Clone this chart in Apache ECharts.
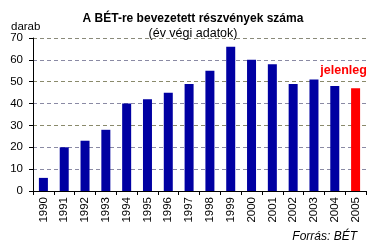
<!DOCTYPE html>
<html><head><meta charset="utf-8">
<script src="https://cdn.jsdelivr.net/npm/echarts@6/dist/echarts.min.js"></script>
<style>html,body{margin:0;padding:0;background:#fff}#c{width:371px;height:240px}</style>
</head><body><div id="c"></div>
<script>
const years = ['1990','1991','1992','1993','1994','1995','1996','1997','1998','1999','2000','2001','2002','2003','2004','2005'];
const counts = [6,20,23,28,40,42,45,49,55,66,60,58,49,51,48,47];
const yTicks = [0,10,20,30,40,50,60,70];
const currentLabel = 'jelenleg';

const font = 'Liberation Sans, Arial, sans-serif';
const chart = echarts.init(document.getElementById('c'), null, {renderer:'canvas'});
chart.setOption({
  animation:false,
  backgroundColor:'#fff',
  grid:{left:33,right:5,top:38,bottom:49},
  title:[
    {text:'A BÉT-re bevezetett részvények száma',left:188,top:8,textAlign:'center',
     textStyle:{fontFamily:font,fontSize:12,fontWeight:'bold',color:'#000'}},
    {text:'(év végi adatok)',left:188,top:22,textAlign:'center',
     textStyle:{fontFamily:font,fontSize:12.5,fontWeight:'normal',color:'#000'}},
    {text:'darab',left:6,top:16,textStyle:{fontFamily:font,fontSize:11.5,fontWeight:'normal',color:'#000'}},
    {text:'Forrás: BÉT',right:9,top:226,textStyle:{fontFamily:font,fontSize:12,fontStyle:'italic',fontWeight:'normal',color:'#000'}}
  ],
  xAxis:{type:'category',data:years,
    axisLine:{lineStyle:{color:'#000',width:1}},
    axisTick:{show:true,alignWithLabel:false,length:4,lineStyle:{color:'#000'}},
    axisLabel:{rotate:90,fontFamily:font,fontSize:11.5,color:'#000',margin:6,interval:0}},
  yAxis:{type:'value',min:yTicks[0],max:yTicks[yTicks.length-1],interval:10,
    axisLine:{show:true,lineStyle:{color:'#000',width:1}},
    axisTick:{show:true,length:4,lineStyle:{color:'#000'}},
    axisLabel:{fontFamily:font,fontSize:11.5,color:'#000',margin:10},
    splitLine:{show:true,lineStyle:{type:[4,3],color:['#8a8aa4','#8a8aa4','#8a8aa4','#8a8a6c','#8a8aa4','#8a8a6c','#8a8aa4','#8a8a7a']}}},
  series:[{type:'bar',barWidth:9,
    data:counts.map((v,i)=> i===counts.length-1
      ? {value:v,itemStyle:{color:'#ff0000'},label:{show:true,position:'top',formatter:currentLabel,offset:[-12,-6],color:'#ff0000',fontFamily:font,fontSize:12.5,fontWeight:'bold'}}
      : {value:v,itemStyle:{color:'#0000a2'}})
  }]
});
</script></body></html>
